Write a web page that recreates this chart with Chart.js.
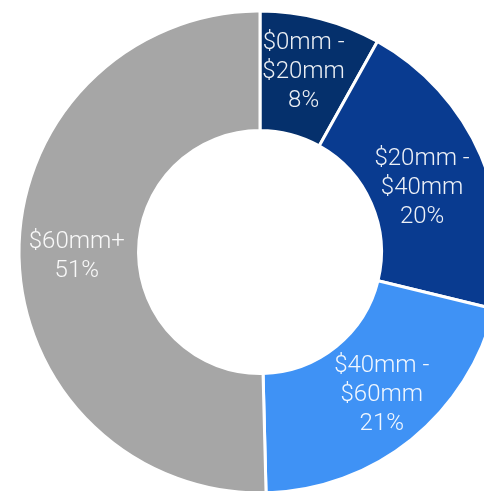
<!DOCTYPE html>
<html>
<head>
<meta charset="utf-8">
<script src="https://cdn.jsdelivr.net/npm/chart.js@4"></script>
<style>
  html, body { margin: 0; padding: 0; background: #ffffff; overflow: hidden; }
  .wrap { position: absolute; left: 0; top: 0; width: 520px; height: 504px; }
</style>
</head>
<body>
<div class="wrap"><canvas id="graficoFaixas"></canvas></div>
<script>
// Faixas de valor (linhas do rótulo) e participação
const faixas = [['$0mm -', '$20mm'], ['$20mm -', '$40mm'], ['$40mm -', '$60mm'], ['$60mm+']];
const valores = [8.1, 20.7, 20.8, 50.4];
const percentuais = ['8%', '20%', '21%', '51%'];
const cores = ['#05306c', '#093b90', '#3f92f5', '#a6a6a6'];

// pequenos ajustes de posição dos rótulos (px)
const ajustesRotulo = [[-2, -5], [-4, 8], [8, 2], [-2, 2]];

// Rótulos dentro de cada fatia
const rotulosFatias = {
    id: 'rotulosFatias',
    afterDatasetsDraw(chart) {
        const ctx = chart.ctx;
        const meta = chart.getDatasetMeta(0);
        ctx.save();
        ctx.font = '300 24px Roboto';
        ctx.fillStyle = 'rgba(255,255,255,0.93)';
        ctx.textAlign = 'center';
        ctx.textBaseline = 'middle';
        meta.data.forEach((arc, i) => {
            const pos = arc.tooltipPosition();
            const [dx, dy] = ajustesRotulo[i];
            const linhas = faixas[i].concat([percentuais[i]]);
            const alturaLinha = 29;
            const y0 = pos.y + dy - (linhas.length - 1) * alturaLinha / 2;
            linhas.forEach((txt, j) => {
                ctx.fillText(txt, pos.x + dx, y0 + j * alturaLinha);
            });
        });
        ctx.restore();
    }
};

new Chart(document.getElementById('graficoFaixas'), {
    type: 'doughnut',
    data: {
        labels: faixas.map(f => f.join(' ')),
        datasets: [{
            data: valores,
            backgroundColor: cores,
            borderColor: '#ffffff',
            borderWidth: 3,
            hoverOffset: 0
        }]
    },
    options: {
        responsive: true,
        maintainAspectRatio: false,
        animation: false,
        radius: 241,
        cutout: '50.4%',
        plugins: {
            legend: { display: false },
            tooltip: { enabled: false }
        }
    },
    plugins: [rotulosFatias]
});
</script>
</body>
</html>
